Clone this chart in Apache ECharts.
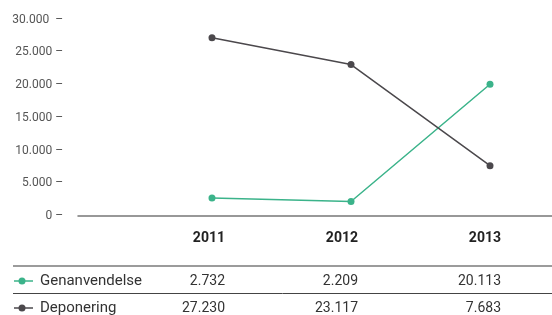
<!DOCTYPE html>
<html>
<head>
<meta charset="utf-8">
<script src="https://cdn.jsdelivr.net/npm/echarts@6/dist/echarts.min.js"></script>
<style>
  html, body { margin: 0; padding: 0; background: #fff; }
  #chart { width: 552px; height: 315px; }
</style>
</head>
<body>
<div id="chart"></div>
<script>
// data
var years = [2011, 2012, 2013];
var seriesNames = ['Genanvendelse', 'Deponering'];
var genanvendelse = [2732, 2209, 20113];
var deponering = [27230, 23117, 7683];
var yTicks = [0, 5000, 10000, 15000, 20000, 25000, 30000];

var colors = ['#3bb38a', '#4b484c'];
var FONT = 'Roboto';

// danish thousands separator
function fmt(v) {
    return String(v).replace(/\B(?=(\d{3})+(?!\d))/g, '.');
}

function toPairs(vals) {
    var arr = [];
    for (var i = 0; i < years.length; i++) {
        arr.push([years[i], vals[i]]);
    }
    return arr;
}

var myChart = echarts.init(document.getElementById('chart'));

// table layout (right edges of the columns)
var colRight = [225, 358, 501];
var rowY = [281, 308];
var rows = [genanvendelse, deponering];

var graphics = [];
// year header
years.forEach(function (y, i) {
    graphics.push({
        type: 'text', x: colRight[i], y: 238,
        style: { text: String(y), font: 'bold 14px ' + FONT, fill: '#222', textAlign: 'right', textVerticalAlign: 'middle' }
    });
});
// table rules
graphics.push({ type: 'line', shape: { x1: 13, y1: 266, x2: 552, y2: 266 }, style: { stroke: '#7a7a7a', lineWidth: 1.5 } });
graphics.push({ type: 'line', shape: { x1: 13, y1: 293.5, x2: 552, y2: 293.5 }, style: { stroke: '#444', lineWidth: 1 } });
// rows
rows.forEach(function (vals, r) {
    graphics.push({ type: 'line', shape: { x1: 14, y1: rowY[r], x2: 33, y2: rowY[r] }, style: { stroke: colors[r], lineWidth: 1.5 } });
    graphics.push({ type: 'circle', shape: { cx: 22, cy: rowY[r], r: 3.5 }, style: { fill: colors[r] } });
    graphics.push({
        type: 'text', x: 40, y: rowY[r],
        style: { text: seriesNames[r], font: '15px ' + FONT, fill: '#333', textVerticalAlign: 'middle' }
    });
    vals.forEach(function (v, i) {
        graphics.push({
            type: 'text', x: colRight[i], y: rowY[r],
            style: { text: fmt(v), font: '14px ' + FONT, fill: '#333', textAlign: 'right', textVerticalAlign: 'middle' }
        });
    });
});

var option = {
    animation: false,
    grid: { left: 78, right: 0, top: 19.5, bottom: 99, containLabel: false },
    xAxis: {
        type: 'value',
        min: 2010.036,
        max: 2013.446,
        axisLine: { show: true, onZero: false, lineStyle: { color: '#777', width: 1.5 } },
        axisTick: { show: false },
        axisLabel: { show: false },
        splitLine: { show: false }
    },
    yAxis: {
        type: 'value',
        min: 0,
        max: 30000,
        interval: 5000,
        axisLine: { show: false },
        axisTick: { show: false },
        splitLine: { show: false },
        axisLabel: {
            margin: 15,
            color: '#555',
            fontFamily: FONT,
            fontSize: 12,
            formatter: function (v) {
                if (yTicks.indexOf(v) < 0) return '';
                return fmt(v) + (v === 30000 ? '  \u2013' : ' \u2013');
            }
        }
    },
    series: [
        {
            name: seriesNames[0], type: 'line', data: toPairs(genanvendelse),
            symbol: 'circle', symbolSize: 7,
            itemStyle: { color: colors[0] }, lineStyle: { color: colors[0], width: 1.5 }
        },
        {
            name: seriesNames[1], type: 'line', data: toPairs(deponering),
            symbol: 'circle', symbolSize: 7,
            itemStyle: { color: colors[1] }, lineStyle: { color: colors[1], width: 1.5 }
        }
    ],
    graphic: graphics
};

myChart.setOption(option);
</script>
</body>
</html>
